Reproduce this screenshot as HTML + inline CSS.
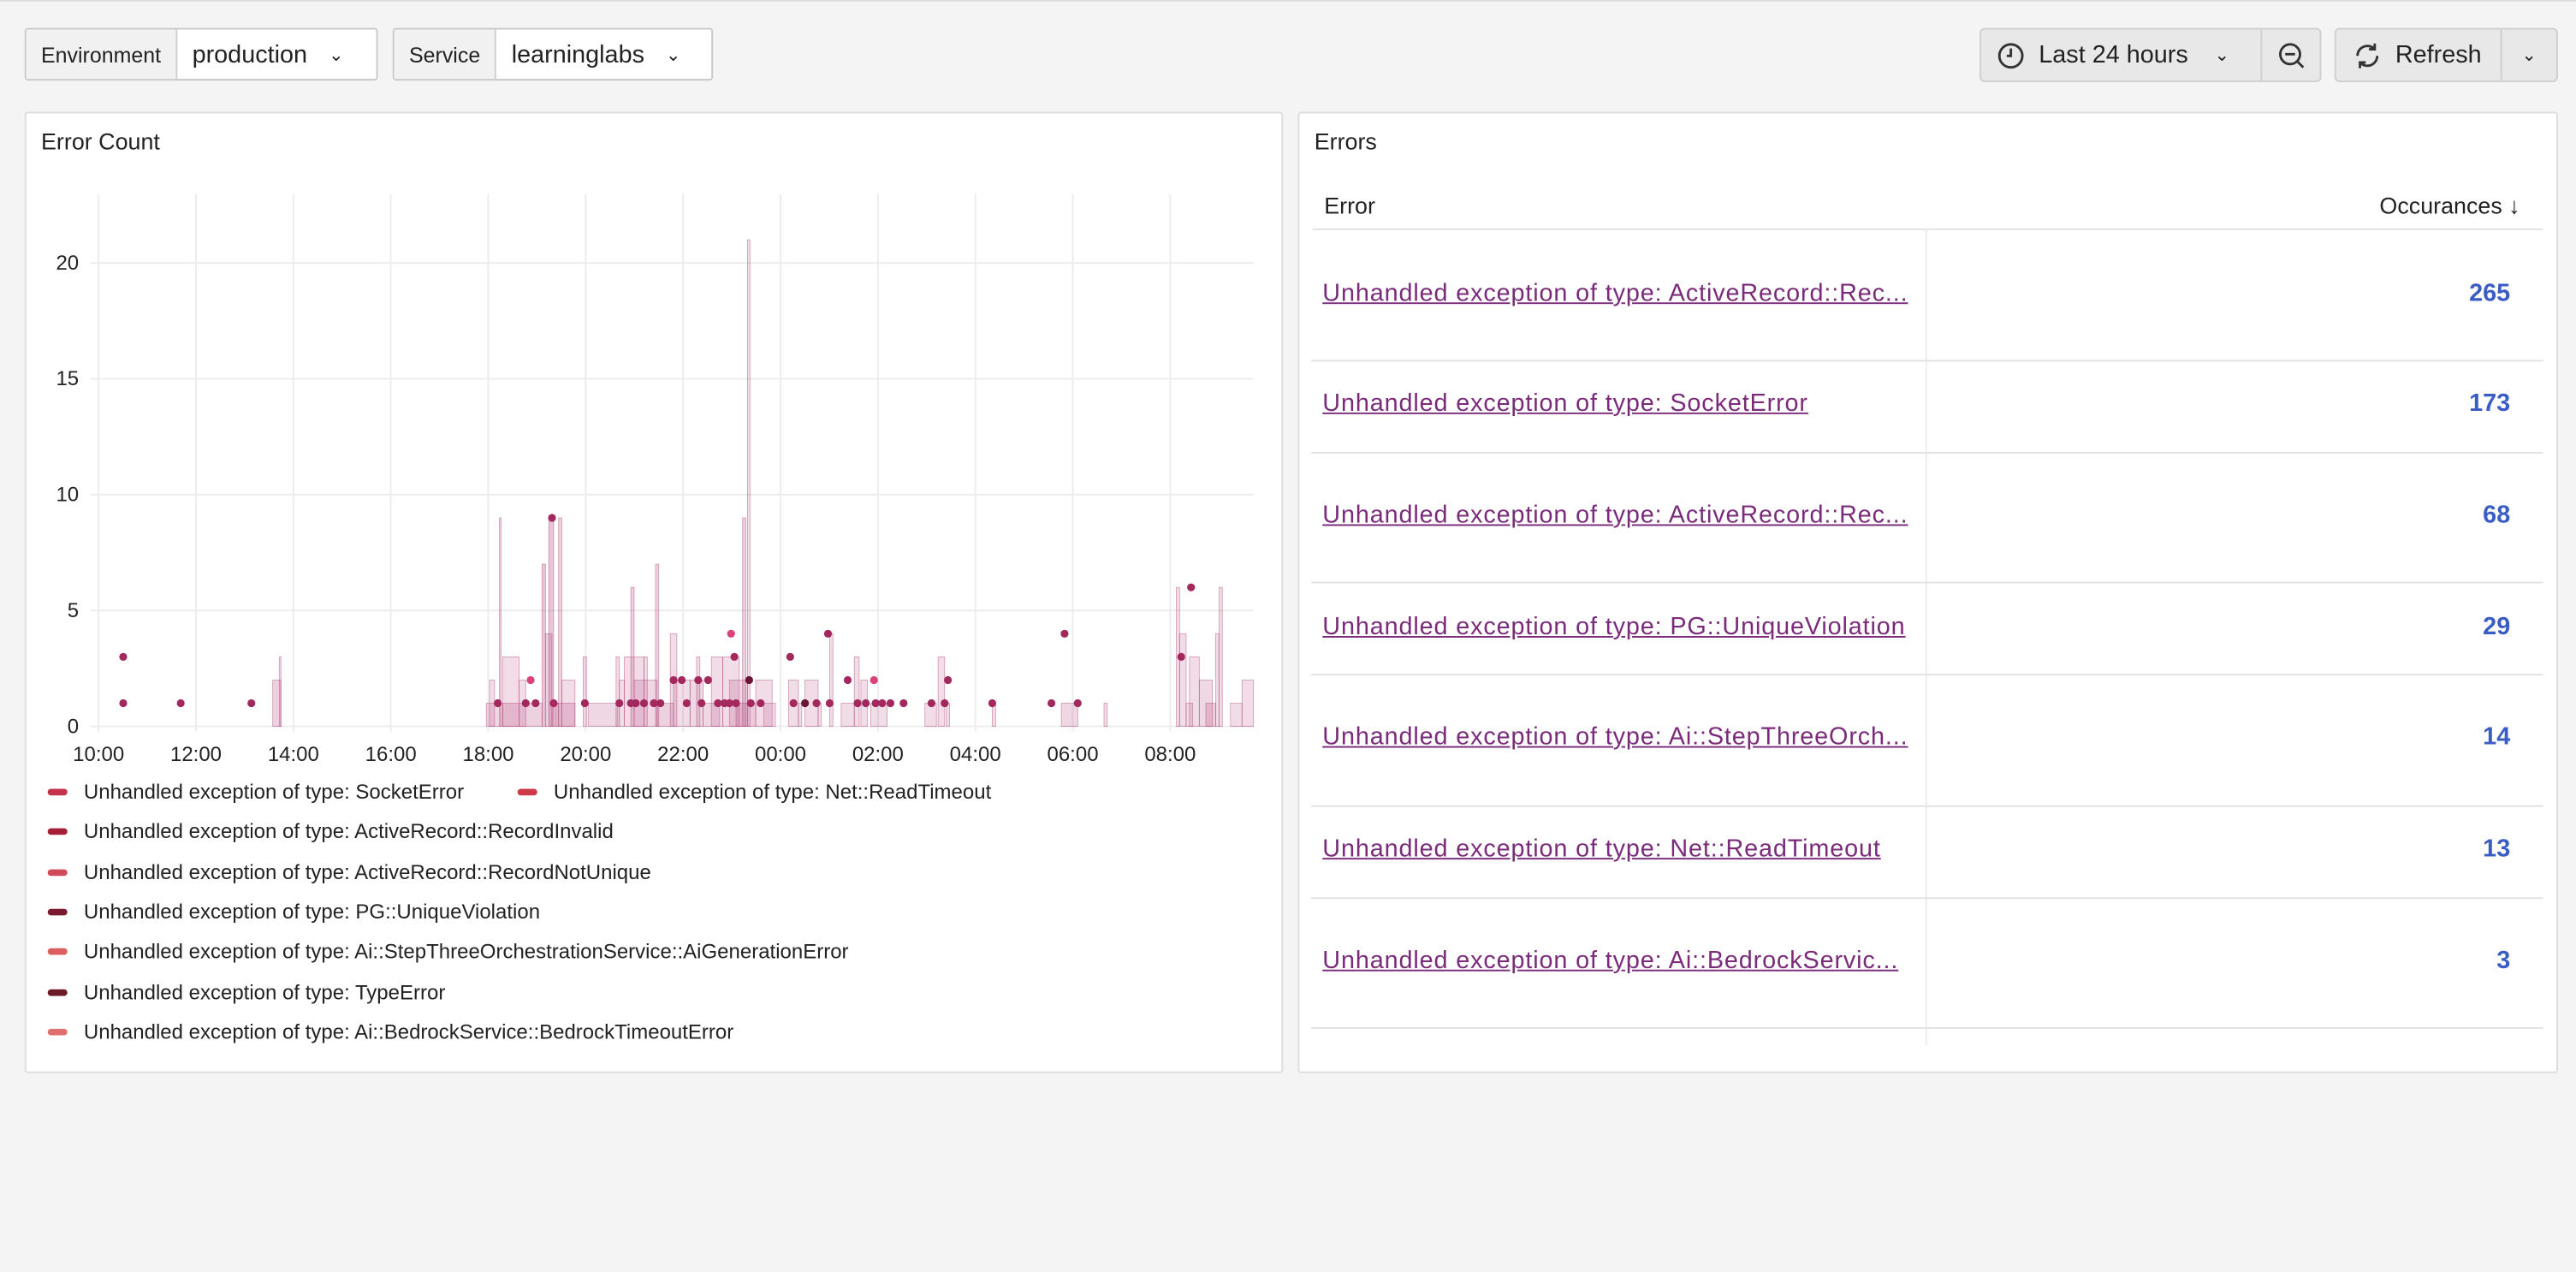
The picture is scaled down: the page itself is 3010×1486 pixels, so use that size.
<!DOCTYPE html>
<html><head><meta charset="utf-8">
<style>
html,body{margin:0;padding:0;background:#f4f4f4;width:3010px;height:1486px;overflow:hidden;font-family:"Liberation Sans",sans-serif;color:#222;}
#w{position:absolute;left:0;top:0;width:1568px;height:774px;transform:scale(1.91964,1.9199);transform-origin:0 0;}
.abs{position:absolute;}
.ctl{position:absolute;top:17px;height:32px;border:1px solid #c8c8c8;border-radius:2px;background:#fff;display:flex;font-size:15px;box-sizing:border-box;}
.ctl .lab{background:#f1f1f1;border-right:1px solid #d0d0d0;font-size:13px;display:flex;align-items:center;padding:0 9px;}
.ctl .val{display:flex;align-items:center;padding:0 9px;}
.btn{position:absolute;top:17px;height:33px;border:1px solid #cfcfcf;border-radius:3px;background:#e8e8e8;box-sizing:border-box;display:flex;font-size:15px;}
.panel{position:absolute;top:68px;height:585px;background:#fff;border:1px solid #dedede;box-sizing:border-box;border-radius:2px;}
.leg{position:absolute;left:29px;font-size:12.5px;white-space:nowrap;}
.leg i{display:inline-block;width:12px;height:4px;border-radius:2px;vertical-align:middle;margin-right:10px;position:relative;top:-1px;}
.row a{color:#7a2b7a;text-decoration:underline;font-size:15px;letter-spacing:0.45px;font-weight:500;white-space:nowrap;}
.num{position:absolute;color:#3a5cc5;font-weight:bold;font-size:15px;}
</style></head><body><div id="w">
<div class="abs" style="left:0;top:0;width:1568px;height:1px;background:#ddd"></div>
<div class="ctl" style="left:15px;width:215px"><div class="lab">Environment</div><div class="val">production <span style="margin-left:13px;font-size:11px">&#8964;</span></div></div>
<div class="ctl" style="left:239px;width:195px"><div class="lab">Service</div><div class="val">learninglabs <span style="margin-left:13px;font-size:11px">&#8964;</span></div></div>
<div class="btn" style="left:1205px;width:208px">
 <div style="width:170px;display:flex;align-items:center;border-right:1px solid #cfcfcf">
  <svg width="18" height="18" style="margin:0 8px 0 9px" viewBox="0 0 18 18"><circle cx="9" cy="9" r="7" fill="none" stroke="#333" stroke-width="1.5"/><path d="M9 4.5V9H6.5" fill="none" stroke="#333" stroke-width="1.5"/></svg>
  <span>Last 24 hours</span><span style="margin-left:16px;font-size:11px">&#8964;</span></div>
 <div style="flex:1;display:flex;align-items:center;justify-content:center"><svg width="18" height="18" viewBox="0 0 18 18"><circle cx="8" cy="8" r="6" fill="none" stroke="#333" stroke-width="1.5"/><path d="M5 8h6M12.5 12.5l3.5 3.5" stroke="#333" stroke-width="1.5"/></svg></div>
</div>
<div class="btn" style="left:1421px;width:136px">
 <div style="width:100px;display:flex;align-items:center;border-right:1px solid #cfcfcf">
  <svg width="18" height="18" style="margin:0 8px 0 10px" viewBox="0 0 18 18"><path d="M3 9a6 6 0 0 1 10.5-4M15 9a6 6 0 0 1-10.5 4" fill="none" stroke="#333" stroke-width="1.5"/><path d="M13.5 1.5v3.5H10M4.5 16.5V13H8" fill="none" stroke="#333" stroke-width="1.5"/></svg>
  <span>Refresh</span></div>
 <div style="flex:1;display:flex;align-items:center;justify-content:center;font-size:11px">&#8964;</div>
</div>

<div class="panel" style="left:15px;width:766px">
 <div class="abs" style="left:9px;top:9px;font-size:14px">Error Count</div>
</div>
<svg class="abs" style="left:0;top:0" width="790" height="480" id="ch"></svg>
<div class="leg" style="top:475px"><i style="background:#c4314b"></i>Unhandled exception of type: SocketError</div>
<div class="leg" style="top:475px;left:315px"><i style="background:#cf3a4a"></i>Unhandled exception of type: Net::ReadTimeout</div>
<div class="leg" style="top:499px"><i style="background:#a61d3a"></i>Unhandled exception of type: ActiveRecord::RecordInvalid</div>
<div class="leg" style="top:524px"><i style="background:#d04a5a"></i>Unhandled exception of type: ActiveRecord::RecordNotUnique</div>
<div class="leg" style="top:548px"><i style="background:#7a1a2e"></i>Unhandled exception of type: PG::UniqueViolation</div>
<div class="leg" style="top:572px"><i style="background:#d9605e"></i>Unhandled exception of type: Ai::StepThreeOrchestrationService::AiGenerationError</div>
<div class="leg" style="top:597px"><i style="background:#6b1a26"></i>Unhandled exception of type: TypeError</div>
<div class="leg" style="top:621px"><i style="background:#e07070"></i>Unhandled exception of type: Ai::BedrockService::BedrockTimeoutError</div>

<div class="panel" style="left:790px;width:767px">
 <div class="abs" style="left:9px;top:9px;font-size:14px">Errors</div>
 <div class="abs" style="left:15px;top:48px;font-size:14px">Error</div>
 <div class="abs" style="right:22px;top:48px;font-size:14px">Occurances &#8595;</div>
 <div class="abs" style="left:8px;right:8px;top:70px;height:1px;background:#e2e2e2"></div>
 <div class="abs" style="left:381px;top:71px;width:1px;height:496px;background:#ececec"></div>
</div>
<div id="rows"></div>
</div>
<script>
var s='';
var ch=document.getElementById('ch');
function y(v){return 442-v*14.1;}
for(var i=0;i<=11;i++){var x=60+i*59.3;s+='<line x1="'+x+'" y1="118" x2="'+x+'" y2="445" stroke="#ececec"/>';
 var h=(10+2*i)%24;s+='<text x="'+x+'" y="463" font-size="12.5" text-anchor="middle" fill="#222">'+(h<10?'0':'')+h+':00</text>';}
[0,5,10,15,20].forEach(function(v){s+='<line x1="55" y1="'+y(v)+'" x2="763" y2="'+y(v)+'" stroke="#ececec"/><text x="48" y="'+(y(v)+4)+'" font-size="12.5" text-anchor="end" fill="#222">'+v+'</text>';});
var bars=[[166,171,2,.4],[170,171,3,.3],[296,306,1,.35],[298,301,2,.3],[304,305,9,.4],[306,316,3,.3],[306,330,1,.4],[316,320,2,.3],[330,332,7,.5],[332,336,4,.4],[334,337,9,.5],[338,340,1,.4],[340,342,9,.4],[342,350,2,.3],[336,350,1,.4],[355,357,3,.3],[358,376,1,.35],[375,377,3,.3],[377,380,2,.3],[380,392,3,.3],[384,386,6,.4],[386,400,2,.35],[392,394,3,.3],[399,401,7,.4],[400,410,1,.4],[408,412,4,.3],[410,420,2,.3],[420,428,2,.35],[424,426,3,.3],[428,438,1,.35],[433,440,3,.3],[440,450,3,.3],[444,455,2,.35],[452,454,9,.4],[455,456.5,21,.3],[448,460,1,.45],[460,470,2,.3],[465,472,1,.3],[480,486,2,.3],[486,488,1,.3],[490,498,2,.3],[498,500,1,.3],[505,507,4,.3],[512,520,1,.3],[520,523,3,.3],[524,528,2,.3],[530,540,1,.3],[563,570,1,.3],[571,575,3,.3],[576,578,1,.3],[604,606,1,.3],[646,656,1,.35],[672,674,1,.3],[716,718,6,.3],[718,722,4,.3],[722,726,1,.3],[724,730,3,.3],[730,738,2,.35],[734,740,1,.4],[740,742,4,.3],[742,744,6,.3],[749,756,1,.3],[756,763,2,.3]];
bars.forEach(function(b){s+='<rect x="'+b[0]+'" y="'+y(b[2])+'" width="'+(b[1]-b[0])+'" height="'+(b[2]*14.1)+'" fill="rgba(190,90,140,'+(b[3]*0.7)+')" stroke="rgba(170,60,110,0.5)" stroke-width="0.4"/>';});
var D=[[75,3],[75,1],[110,1],[153,1],[303,1],[320,1],[323,2,'#d9437a'],[326,1],[336,9],[337,1],[356,1],[377,1],[384,1],[387,1],[392,1],[398,1],[402,1],[410,2],[415,2],[418,1],[425,2],[427,1],[431,2],[437,1],[441,1],[444,1],[445,4,'#d9437a'],[447,3],[448,1],[456,2,'#6b1632'],[457,1],[463,1],[481,3],[483,1],[490,1,'#6b1632'],[497,1],[504,4],[505,1],[516,2],[522,1],[527,1],[532,2,'#d9437a'],[533,1],[537,1],[542,1],[550,1],[567,1],[575,1],[577,2],[604,1],[640,1],[648,4],[656,1],[719,3],[725,6]];
D.forEach(function(d){s+='<circle cx="'+d[0]+'" cy="'+y(d[1])+'" r="2.4" fill="'+(d[2]||'#a3285e')+'"/>';});
ch.innerHTML=s;
var R=[["Unhandled exception of type: ActiveRecord::Rec...",265,180,219],["Unhandled exception of type: SocketError",173,247,275],["Unhandled exception of type: ActiveRecord::Rec...",68,315,354],["Unhandled exception of type: PG::UniqueViolation",29,383,410],["Unhandled exception of type: Ai::StepThreeOrch...",14,450,490],["Unhandled exception of type: Net::ReadTimeout",13,518,546],["Unhandled exception of type: Ai::BedrockServic...",3,586,625]];
var h='';R.forEach(function(r){h+='<div class="row abs" style="left:805px;top:'+(r[2]-10)+'px"><a>'+r[0]+'</a></div><div class="num" style="top:'+(r[2]-10)+'px;left:1480px;width:48px;text-align:right">'+r[1]+'</div><div class="abs" style="left:798px;width:750px;top:'+r[3]+'px;height:1px;background:#e2e2e2"></div>';});
document.getElementById('rows').innerHTML=h;
</script>
</body></html>
